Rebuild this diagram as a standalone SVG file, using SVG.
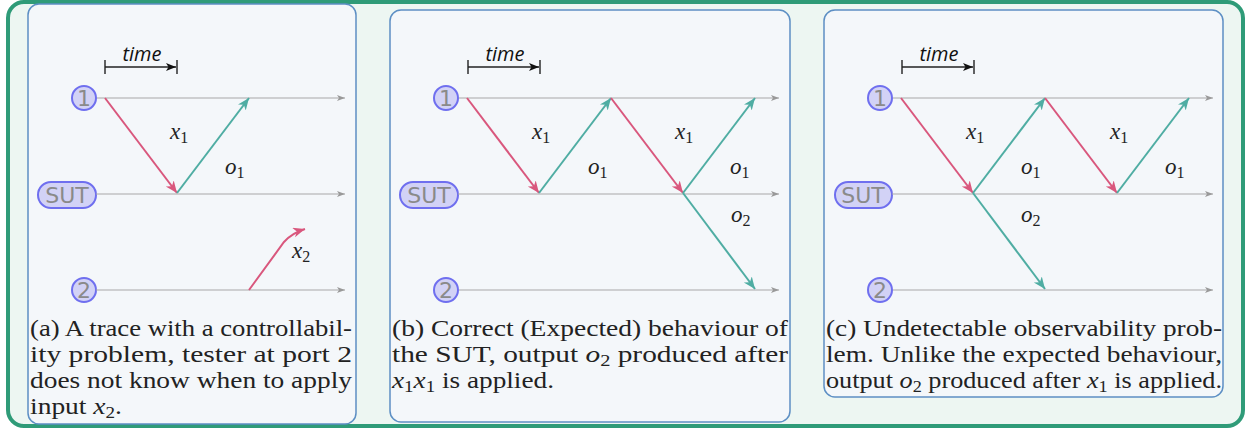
<svg xmlns="http://www.w3.org/2000/svg" width="1250" height="430" viewBox="0 0 1250 430">
<style>
.outer{fill:#edf6f2;stroke:#2f9b78;stroke-width:4}
.panel{fill:#f4f7fa;stroke:#5d8fc4;stroke-width:1.5}
.axis{stroke:#a8a8a8;stroke-width:1.2;fill:none}
.in{stroke:#d9577d;stroke-width:2;fill:none}
.out{stroke:#4fada3;stroke-width:2;fill:none}
.tb{stroke:#222;stroke-width:1.4;fill:none}
.node{fill:#d2d2f6;stroke:#6f6fef;stroke-width:2}
.nt{font-family:"DejaVu Sans",sans-serif;font-size:22px;fill:#8a8a8a;text-anchor:middle}
.time{font-family:"Open Sans",sans-serif;font-style:italic;font-size:20px;fill:#111;text-anchor:middle}
.m{font-family:"Liberation Serif",serif;font-size:23px;fill:#222}
.mi{font-style:italic}
.sub{font-size:16px}
.cap{font-family:"Liberation Serif",serif;font-size:23px;fill:#222}
</style>
<defs>
<marker id="aR" markerUnits="userSpaceOnUse" markerWidth="14" markerHeight="12" refX="12" refY="5" orient="auto"><path d="M0,0 L12,5 L0,10 L3.5,5 z" fill="#d9577d"/></marker>
<marker id="aT" markerUnits="userSpaceOnUse" markerWidth="14" markerHeight="12" refX="12" refY="5" orient="auto"><path d="M0,0 L12,5 L0,10 L3.5,5 z" fill="#4fada3"/></marker>
<marker id="aG" markerUnits="userSpaceOnUse" markerWidth="9" markerHeight="8" refX="8" refY="3" orient="auto"><path d="M0,0 L8,3 L0,6 L2,3 z" fill="#999"/></marker>
<marker id="aK" markerUnits="userSpaceOnUse" markerWidth="11" markerHeight="9" refX="10" refY="4" orient="auto"><path d="M0,0 L10,4 L0,8 L2.5,4 z" fill="#111"/></marker>
</defs>
<rect class="outer" x="8" y="2" width="1235" height="424" rx="16"/>

<!-- Panel (a) -->
<g id="panel-a">
<rect class="panel" x="28" y="4" width="328" height="420" rx="11"/>
<g id="a-time"><path class="tb" d="M105,60 V74 M177,60 V74"/><path class="tb" d="M105,67 H176" marker-end="url(#aK)"/><text class="time" x="142" y="61">time</text></g>
<g id="a-n1"><rect class="node" x="72" y="86" width="24" height="24" rx="12"/><text class="nt" x="84" y="106">1</text></g>
<g id="a-nsut"><rect class="node" x="38" y="182" width="58" height="26" rx="13"/><text class="nt" x="67" y="203">SUT</text></g>
<g id="a-n2"><rect class="node" x="72" y="278" width="24" height="24" rx="12"/><text class="nt" x="84" y="298">2</text></g>
<text class="cap" x="30" y="336" textLength="322" lengthAdjust="spacingAndGlyphs">(a) A trace with a controllabil-</text>
<text class="cap" x="30" y="362" textLength="322" lengthAdjust="spacingAndGlyphs">ity problem, tester at port 2</text>
<text class="cap" x="30" y="388" textLength="322" lengthAdjust="spacingAndGlyphs">does not know when to apply</text>
<text class="cap" x="30" y="414" textLength="92" lengthAdjust="spacingAndGlyphs">input <tspan class="mi">x</tspan><tspan class="sub" dy="4">2</tspan><tspan dy="-4">.</tspan></text>
</g>

<!-- Panel (b) -->
<g id="panel-b">
<rect class="panel" x="390" y="10" width="400" height="412" rx="11"/>
<g id="b-time"><path class="tb" d="M468,60 V74 M540,60 V74"/><path class="tb" d="M468,67 H539" marker-end="url(#aK)"/><text class="time" x="505" y="61">time</text></g>
<g id="b-n1"><rect class="node" x="434" y="86" width="24" height="24" rx="12"/><text class="nt" x="446" y="106">1</text></g>
<g id="b-nsut"><rect class="node" x="400" y="182" width="58" height="26" rx="13"/><text class="nt" x="429" y="203">SUT</text></g>
<g id="b-n2"><rect class="node" x="434" y="278" width="24" height="24" rx="12"/><text class="nt" x="446" y="298">2</text></g>
<text class="cap" x="392" y="336" textLength="396" lengthAdjust="spacingAndGlyphs">(b) Correct (Expected) behaviour of</text>
<text class="cap" x="392" y="362" textLength="396" lengthAdjust="spacingAndGlyphs">the SUT, output <tspan class="mi">o</tspan><tspan class="sub" dy="4">2</tspan><tspan dy="-4"> produced after</tspan></text>
<text class="cap" x="392" y="388" textLength="162" lengthAdjust="spacingAndGlyphs"><tspan class="mi">x</tspan><tspan class="sub" dy="4">1</tspan><tspan class="mi" dy="-4">x</tspan><tspan class="sub" dy="4">1</tspan><tspan dy="-4"> is applied.</tspan></text>
</g>

<!-- Panel (c) -->
<g id="panel-c">
<rect class="panel" x="824" y="10" width="399" height="387" rx="11"/>
<g id="c-time"><path class="tb" d="M902,60 V74 M974,60 V74"/><path class="tb" d="M902,67 H973" marker-end="url(#aK)"/><text class="time" x="939" y="61">time</text></g>
<g id="c-n1"><rect class="node" x="868" y="86" width="24" height="24" rx="12"/><text class="nt" x="880" y="106">1</text></g>
<g id="c-nsut"><rect class="node" x="835" y="182" width="57" height="26" rx="13"/><text class="nt" x="863" y="203">SUT</text></g>
<g id="c-n2"><rect class="node" x="868" y="278" width="24" height="24" rx="12"/><text class="nt" x="880" y="298">2</text></g>
<text class="cap" x="826" y="336" textLength="396" lengthAdjust="spacingAndGlyphs">(c) Undetectable observability prob-</text>
<text class="cap" x="826" y="362" textLength="396" lengthAdjust="spacingAndGlyphs">lem.  Unlike the expected behaviour,</text>
<text class="cap" x="826" y="388" textLength="396" lengthAdjust="spacingAndGlyphs">output <tspan class="mi">o</tspan><tspan class="sub" dy="4">2</tspan><tspan dy="-4"> produced after </tspan><tspan class="mi">x</tspan><tspan class="sub" dy="4">1</tspan><tspan dy="-4"> is applied.</tspan></text>
</g>

<!-- Connectors -->
<g id="connectors">
<path class="axis" d="M97,98 H345" marker-end="url(#aG)"/>
<path class="axis" d="M96,194 H345" marker-end="url(#aG)"/>
<path class="axis" d="M96,290 H345" marker-end="url(#aG)"/>
<path class="in" d="M105,98 L177,193" marker-end="url(#aR)"/>
<path class="out" d="M177,193 L249,98" marker-end="url(#aT)"/>
<path class="in" d="M249,290 L284,242 Q292,233 305,229" marker-end="url(#aR)"/>

<path class="axis" d="M459,98 H779" marker-end="url(#aG)"/>
<path class="axis" d="M458,194 H779" marker-end="url(#aG)"/>
<path class="axis" d="M459,290 H779" marker-end="url(#aG)"/>
<path class="in" d="M467,98 L539,193" marker-end="url(#aR)"/>
<path class="out" d="M539,193 L611,98" marker-end="url(#aT)"/>
<path class="in" d="M611,98 L683,193" marker-end="url(#aR)"/>
<path class="out" d="M683,193 L755,98" marker-end="url(#aT)"/>
<path class="out" d="M683,193 L755,289" marker-end="url(#aT)"/>

<path class="axis" d="M893,98 H1213" marker-end="url(#aG)"/>
<path class="axis" d="M892,194 H1213" marker-end="url(#aG)"/>
<path class="axis" d="M893,290 H1213" marker-end="url(#aG)"/>
<path class="in" d="M901,98 L973,193" marker-end="url(#aR)"/>
<path class="out" d="M973,193 L1045,98" marker-end="url(#aT)"/>
<path class="out" d="M973,193 L1045,289" marker-end="url(#aT)"/>
<path class="in" d="M1045,98 L1117,193" marker-end="url(#aR)"/>
<path class="out" d="M1117,193 L1189,98" marker-end="url(#aT)"/>
</g>

<!-- Connector labels -->
<g id="labels" class="m">
<text x="170" y="139"><tspan class="mi">x</tspan><tspan class="sub" dy="4">1</tspan></text>
<text x="225" y="174"><tspan class="mi">o</tspan><tspan class="sub" dy="4">1</tspan></text>
<text x="292" y="258"><tspan class="mi">x</tspan><tspan class="sub" dy="4">2</tspan></text>

<text x="532" y="139"><tspan class="mi">x</tspan><tspan class="sub" dy="4">1</tspan></text>
<text x="588" y="174"><tspan class="mi">o</tspan><tspan class="sub" dy="4">1</tspan></text>
<text x="675" y="139"><tspan class="mi">x</tspan><tspan class="sub" dy="4">1</tspan></text>
<text x="730" y="174"><tspan class="mi">o</tspan><tspan class="sub" dy="4">1</tspan></text>
<text x="731" y="222"><tspan class="mi">o</tspan><tspan class="sub" dy="4">2</tspan></text>

<text x="966" y="139"><tspan class="mi">x</tspan><tspan class="sub" dy="4">1</tspan></text>
<text x="1021" y="174"><tspan class="mi">o</tspan><tspan class="sub" dy="4">1</tspan></text>
<text x="1110" y="139"><tspan class="mi">x</tspan><tspan class="sub" dy="4">1</tspan></text>
<text x="1165" y="174"><tspan class="mi">o</tspan><tspan class="sub" dy="4">1</tspan></text>
<text x="1021" y="222"><tspan class="mi">o</tspan><tspan class="sub" dy="4">2</tspan></text>
</g>
</svg>
